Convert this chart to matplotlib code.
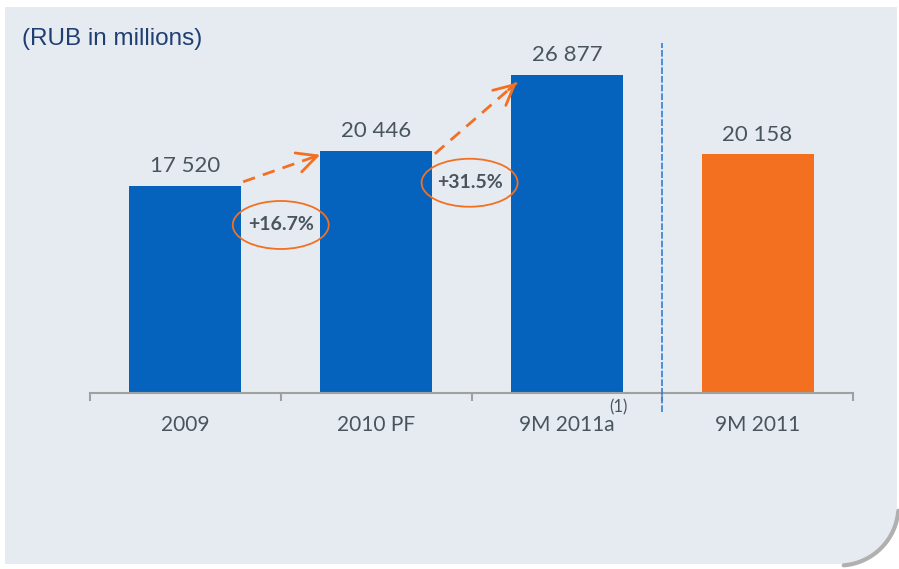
#!/usr/bin/env python3
import numpy as np
import matplotlib
matplotlib.use("Agg")
import matplotlib.pyplot as plt
from matplotlib.path import Path
from matplotlib.patches import PathPatch, Ellipse

categories = ["2009", "2010 PF", "9M 2011a", "9M 2011"]
values = [17520, 20446, 26877, 20158]
value_labels = ["17 520", "20 446", "26 877", "20 158"]
growth_labels = ["+16.7%", "+31.5%"]

BLUE = "#0563BE"
ORANGE = "#F37021"
TEXT = "#4A545C"
PANEL = "#E6EBF2"

W, H = 899, 569
fig = plt.figure(figsize=(W / 100, H / 100), dpi=100, facecolor="white")

# background panel with rounded bottom-right corner, in pixel coords
bg = fig.add_axes([0, 0, 1, 1], zorder=0)
bg.set_xlim(0, W)
bg.set_ylim(H, 0)
bg.axis("off")


def panel_path(x0, y0, x1, y1, r):
    ang = np.linspace(0, np.pi / 2, 30)
    arc = np.column_stack([x1 - r + r * np.cos(ang), y1 - r + r * np.sin(ang)])
    pts = np.vstack([[x0, y0], [x1, y0], arc, [x0, y1], [x0, y0]])
    codes = [Path.MOVETO] + [Path.LINETO] * (len(pts) - 2) + [Path.CLOSEPOLY]
    return Path(pts, codes)


r = 58
# shadow only along the curved corner
ang = np.linspace(0.08, np.pi / 2 - 0.08, 40)
bg.plot(897 - r + (r + 1.5) * np.cos(ang), 564 - r + (r + 1.5) * np.sin(ang),
        color="#B0B0B0", lw=3, solid_capstyle="round")
bg.add_patch(PathPatch(panel_path(5, 7, 897, 564, r), fc=PANEL, ec="none"))
bg.text(22, 39, "(RUB in millions)", fontsize=17.5, color="#1F3F73",
        family="Liberation Sans", ha="left", va="center")

# main chart
px_per_unit = (393 - 75) / 26877
ymax = 30000
ax = fig.add_axes([90 / W, (H - 393) / H, (853 - 90) / W, ymax * px_per_unit / H], zorder=1)
ax.patch.set_alpha(0)
ax.set_xlim(0, 4)
ax.set_ylim(0, ymax)
for s in ["top", "left", "right"]:
    ax.spines[s].set_visible(False)
ax.spines["bottom"].set_color("#A0A0A0")
ax.spines["bottom"].set_linewidth(1.5)

x = np.arange(len(categories)) + 0.5
bw = 0.586
colors = [BLUE, BLUE, BLUE, ORANGE]
ax.bar(x, values, width=bw, color=colors, zorder=2)

ax.set_yticks([])
ax.set_xticks(np.arange(0, 5))
ax.set_xticklabels([])
ax.tick_params(axis="x", which="major", length=6, width=1.5, color="#A0A0A0")
ax.set_xticks(x, minor=True)
ax.set_xticklabels(categories, minor=True, fontsize=15, color=TEXT, family="Lato")
ax.tick_params(axis="x", which="minor", length=0, pad=16)

for xi, v, lab in zip(x, values, value_labels):
    ax.annotate(lab, (xi, v), xytext=(0, 7), textcoords="offset points",
                ha="center", va="bottom", fontsize=16, color=TEXT, family="Lato")

# footnote marker on 9M 2011a
ax.annotate("(1)", (x[2], 0), xytext=(37, -10), textcoords="offset points",
            ha="center", va="center", fontsize=12, color=TEXT, family="Lato",
            annotation_clip=False)

# separator line
ax.plot([3, 3], [-1600, 29600], color="#2E7FD6", lw=1.2, ls=(0, (4, 1.2)),
        clip_on=False, zorder=3)

# growth arrows (dashed shaft, solid head)
starts = [(x[0] + bw / 2 + 0.01, values[0] + 330), (x[1] + bw / 2 + 0.015, values[1] - 230)]
ends = [(x[1] - bw / 2, values[1] - 310), (x[2] - bw / 2 + 0.03, values[2] - 650)]
for (sx, sy), (ex, ey) in zip(starts, ends):
    ax.plot([sx, ex], [sy, ey], color=ORANGE, lw=2, ls=(0, (4.5, 3)), zorder=3,
            solid_capstyle="butt", dash_capstyle="butt")
    hx, hy = sx + 0.9 * (ex - sx), sy + 0.9 * (ey - sy)
    ax.annotate("", xy=(ex, ey), xytext=(hx, hy),
                arrowprops=dict(arrowstyle="->,head_length=0.9,head_width=0.45",
                                color=ORANGE, lw=2, mutation_scale=16,
                                shrinkA=0, shrinkB=0), zorder=3)

# growth ellipses
ell_w = 96 / 190.75
ell_h = 48 / px_per_unit
centers = [(x[0] + 0.5, 14200), (x[1] + 0.49, 17770)]
for (cx, cy), lab in zip(centers, growth_labels):
    ax.add_patch(Ellipse((cx, cy), ell_w, ell_h, fill=False, ec=ORANGE, lw=1.3, zorder=4))
    ax.text(cx, cy, lab, ha="center", va="center", fontsize=14, fontweight="bold",
            color=TEXT, family="Lato", zorder=5)

fig.savefig("out.png", dpi=100, facecolor="white")
